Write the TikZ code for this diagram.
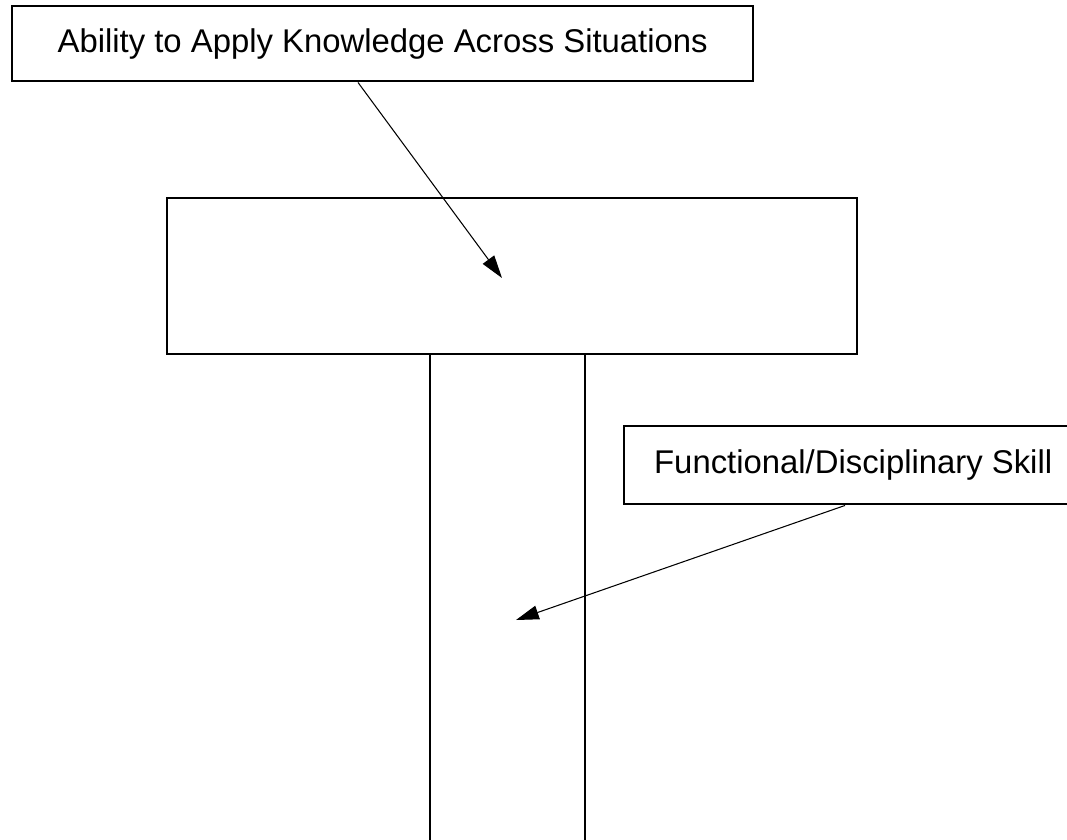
\documentclass[tikz,border=0pt]{standalone}
\usepackage{fontspec}
\setmainfont{Liberation Sans}
\usetikzlibrary{arrows.meta,calc}

\tikzset{
    labelbox/.style={draw, line width=1.4pt, inner sep=0pt, anchor=north west,
        font=\fontsize{18.7}{22}\selectfont},
    barbox/.style={draw, line width=1.4pt, inner sep=0pt, anchor=north west},
    pointer/.style={-{Triangle[length=13pt,width=8pt]}, line width=0.6pt},
}

\begin{document}
\begin{tikzpicture}[x=0.02cm, y=-0.02cm]
    \useasboundingbox (0,0) rectangle (1067,839);
    \clip (0,0) rectangle (1067,839);

    % Barre horizontale et pied du T
    \node[barbox, minimum width=13.8cm, minimum height=3.12cm] (bar) at (166,197) {};
    \draw[line width=1.4pt] (430,353) -- (430,860);
    \draw[line width=1.4pt] (585,353) -- (585,860);

    % Etiquettes
    \node[labelbox, minimum width=14.82cm, minimum height=1.5cm] (ability) at (11,5)
        {Ability to Apply Knowledge Across Situations};
    \node[labelbox, minimum width=9.16cm, minimum height=1.56cm] (skill) at (623,425)
        {Functional/Disciplinary Skill};

    % Fleches
    \coordinate (bartip) at (502,278);
    \coordinate (stemtip) at (516,620);
    \draw[pointer] (ability.south -| 358,0) -- (bartip);
    \draw[pointer] (skill.south -| 845,0) -- (stemtip);
\end{tikzpicture}
\end{document}
